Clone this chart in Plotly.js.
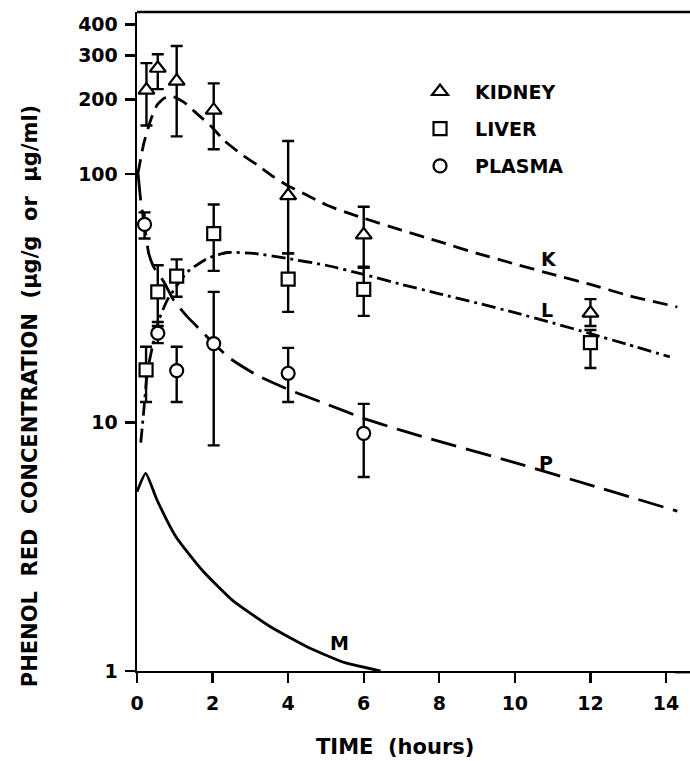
<!DOCTYPE html>
<html>
<head>
<meta charset="utf-8">
<script src="https://cdn.plot.ly/plotly-3.0.1.min.js"></script>
<style>html,body{margin:0;padding:0;background:#fff;}#chart{width:690px;height:761px;}</style>
</head>
<body>
<div id="chart"></div>
<script>
// Measured points (time in hours, concentration)
const kidneyT  = [0.25, 0.55, 1.05, 2.03, 4, 6, 12];
const kidneyV  = [218, 267, 237, 181, 82, 57, 27.6];
const kidneyHi = [280, 304, 328, 232, 136, 74, 31.4];
const kidneyLo = [157, 220, 142, 126, 48, 42, 24.5];

const liverT  = [0.24, 0.55, 1.05, 2.03, 4, 6, 12];
const liverV  = [16.3, 33.6, 38.9, 57.7, 37.8, 34.4, 21.0];
const liverHi = [20.2, 43, 45.4, 75.5, 48, 42.4, 23.6];
const liverLo = [12.1, 25.4, 32.1, 40.8, 27.9, 26.9, 16.6];

const plasmaT  = [0.2, 0.55, 1.05, 2.03, 4, 6];
const plasmaV  = [62.8, 22.9, 16.2, 20.8, 15.8, 9.05];
const plasmaHi = [70.2, 24.5, 20.2, 33.6, 20, 11.9];
const plasmaLo = [55.1, 20.9, 12.1, 8.1, 12.1, 6.04];

// Fitted curves
const curveKT = [0.02, 0.18, 0.36, 0.53, 0.71, 0.93, 1.24, 1.59, 1.94, 2.3, 2.74, 3.18, 3.62, 3.97, 4.41, 5.03, 5.5, 6, 7, 8, 9, 10, 11, 12, 13, 14.3];
const curveKV = [100, 133, 165, 190, 202, 206, 195, 175, 157, 137, 121, 109, 97.5, 90.3, 83.6, 75, 70.5, 66.5, 59.5, 53.5, 48, 43.5, 39.5, 36, 32.5, 29.2];

const curveLT = [0.1, 0.18, 0.27, 0.4, 0.58, 0.8, 1.05, 1.33, 1.86, 2.39, 3.09, 3.97, 5, 6, 7, 8, 9, 10, 11, 12, 13, 14.1];
const curveLV = [8.3, 11.2, 15.8, 20, 25.9, 31.1, 35.5, 40.4, 45.8, 48.4, 48, 45.8, 43, 39.5, 36, 33, 30.3, 27.7, 25.2, 22.8, 20.6, 18.4];

const curvePT = [0.03, 0.1, 0.2, 0.31, 0.44, 0.71, 0.97, 1.33, 1.68, 2.03, 2.47, 3.18, 4, 5, 6, 7, 8, 10, 12, 14.3];
const curvePV = [100, 78, 62, 48, 42.4, 36.9, 31.1, 26.7, 23.6, 20.8, 18.1, 15.5, 13.6, 11.9, 10.4, 9.3, 8.4, 6.9, 5.6, 4.4];

const curveMT = [0, 0.23, 0.53, 1.03, 1.72, 2.52, 3.52, 4.51, 5.5, 6.45];
const curveMV = [5.27, 6.25, 4.88, 3.47, 2.55, 1.93, 1.51, 1.25, 1.08, 1.0];

const curveLabels = ['K', 'L', 'P', 'M'];
const curveLabelT = [10.9, 10.85, 10.83, 5.36];
const curveLabelV = [45.4, 28.4, 6.9, 1.30];

const yTickVals = [1, 10, 100, 200, 300, 400];
const yTickText = ['1', '10', '100', '200', '300', '400'];
const xTickVals = [0, 2, 4, 6, 8, 10, 12, 14];

const FONT = 'DejaVu Sans, Arial, sans-serif';
const sub = (a, b) => a.map((v, i) => v - b[i]);

function pointTrace(name, t, v, hi, lo, symbol, size, group) {
  return {
    type: 'scatter', mode: 'markers', name: name, x: t, y: v,
    legendgroup: group,
    marker: {symbol: symbol, size: size, color: '#fff', line: {color: '#000', width: 2.2}},
    error_y: {type: 'data', symmetric: false, array: sub(hi, v), arrayminus: sub(v, lo),
              color: '#000', thickness: 2.4, width: 6}
  };
}
function curveTrace(t, v, dash) {
  return {type: 'scatter', mode: 'lines', x: t, y: v, showlegend: false,
          line: {color: '#000', width: 2.8, dash: dash, shape: 'spline', smoothing: 0.5}};
}

const data = [
  curveTrace(curveKT, curveKV, '15px,8px'),
  curveTrace(curveLT, curveLV, '14px,5px,3px,5px'),
  curveTrace(curvePT, curvePV, '26px,10px'),
  curveTrace(curveMT, curveMV, 'solid'),
  pointTrace('KIDNEY', kidneyT, kidneyV, kidneyHi, kidneyLo, 'triangle-up', 14, 'a'),
  pointTrace('LIVER', liverT, liverV, liverHi, liverLo, 'square', 13, 'b'),
  pointTrace('PLASMA', plasmaT, plasmaV, plasmaHi, plasmaLo, 'circle', 13, 'c')
];

const annotations = curveLabels.map((s, i) => ({
  text: '<b>' + s + '</b>', x: curveLabelT[i], y: Math.log10(curveLabelV[i]), xref: 'x', yref: 'y',
  showarrow: false, font: {size: 19, family: FONT, color: '#000'}
}));
annotations.push({
  text: '<b>PHENOL\u00A0 RED\u00A0 CONCENTRATION\u00A0 (\u03BCg/g\u00A0 or\u00A0 \u03BCg/ml)</b>',
  xref: 'paper', yref: 'paper', x: -0.197, y: 0.417, textangle: -90,
  showarrow: false, xanchor: 'center', yanchor: 'middle',
  font: {size: 21, family: FONT, color: '#000'}
});
annotations.push({
  text: '<b>TIME\u00A0 (hours)</b>', xref: 'paper', yref: 'paper', x: 0.4751, y: -0.1153,
  showarrow: false, xanchor: 'center', yanchor: 'middle',
  font: {size: 21, family: FONT, color: '#000'}
});

const EXT = 553 / 543; // frame lines run to the right edge of the figure
const BOT = -1.2 / 659; // axis line sits half its width below the plot area
const layout = {
  width: 690, height: 761,
  margin: {l: 137, r: 10, t: 12, b: 90},
  paper_bgcolor: '#fff', plot_bgcolor: '#fff',
  font: {family: FONT, color: '#000'},
  showlegend: true,
  legend: {x: 0.4936, y: 0.908, xanchor: 'left', yanchor: 'top', bgcolor: 'rgba(0,0,0,0)',
           font: {size: 19, family: FONT, color: '#000', weight: 'bold'}, itemwidth: 60, tracegroupgap: 9.5,
           traceorder: 'grouped'},
  xaxis: {range: [0, 14.37], showgrid: false, zeroline: false, showline: true, linecolor: '#000',
          linewidth: 2.4, ticks: 'outside', ticklen: 10, tickwidth: 2.4, tickcolor: '#000',
          ticklabelstandoff: 4,
          tickvals: xTickVals, tickfont: {size: 19, family: FONT, color: '#000', weight: 'bold'}},
  yaxis: {type: 'log', range: [0, 2.653], showgrid: false, zeroline: false, showline: true,
          linecolor: '#000', linewidth: 2.4, ticks: 'outside', ticklen: 10, tickwidth: 2.4,
          tickcolor: '#000', tickvals: yTickVals, ticktext: yTickText, ticklabelstandoff: 3,
          tickfont: {size: 19, family: FONT, color: '#000', weight: 'bold'}},
  shapes: [
    {type: 'line', xref: 'paper', yref: 'paper', x0: 0, x1: EXT, y0: 1, y1: 1,
     line: {color: '#000', width: 2.4}},
    {type: 'line', xref: 'paper', yref: 'paper', x0: 0.99, x1: EXT, y0: BOT, y1: BOT,
     line: {color: '#000', width: 2.4}}
  ],
  annotations: annotations
};

Plotly.newPlot('chart', data, layout, {displayModeBar: false, staticPlot: true});
</script>
</body>
</html>
